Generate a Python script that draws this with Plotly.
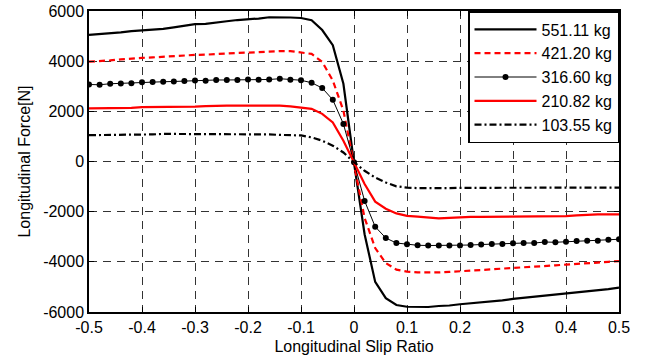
import plotly.graph_objects as go

slip = [-0.5, -0.48, -0.46, -0.44, -0.42, -0.4, -0.38, -0.36, -0.34, -0.32, -0.3,
        -0.28, -0.26, -0.24, -0.22, -0.2, -0.18, -0.16, -0.14, -0.12, -0.1,
        -0.08, -0.06, -0.04, -0.02, 0.0, 0.02, 0.04, 0.06, 0.08, 0.1,
        0.12, 0.14, 0.16, 0.18, 0.2, 0.22, 0.24, 0.26, 0.28, 0.3,
        0.32, 0.34, 0.36, 0.38, 0.4, 0.42, 0.44, 0.46, 0.48, 0.5]

f_551 = [5050, 5080, 5110, 5150, 5200, 5230, 5250, 5290, 5350, 5420, 5480,
         5490, 5530, 5590, 5640, 5660, 5700, 5750, 5760, 5740, 5720,
         5630, 5240, 4640, 3100, -50, -2900, -4800, -5450, -5720, -5790,
         -5800, -5800, -5760, -5740, -5690, -5650, -5620, -5590, -5540, -5480,
         -5440, -5400, -5340, -5310, -5280, -5240, -5190, -5130, -5090, -5030]

f_421 = [3980, 4000, 4030, 4070, 4110, 4130, 4150, 4180, 4210, 4240, 4250,
         4260, 4290, 4310, 4330, 4340, 4370, 4400, 4400, 4400, 4360,
         4290, 3970, 3230, 2030, -50, -2250, -3450, -4050, -4310, -4390,
         -4420, -4430, -4420, -4400, -4380, -4350, -4320, -4300, -4270, -4250,
         -4230, -4200, -4170, -4140, -4110, -4090, -4060, -4030, -4000, -3970]

f_316 = [3070, 3060, 3100, 3110, 3120, 3160, 3170, 3180, 3190, 3210, 3230,
         3220, 3250, 3250, 3250, 3270, 3260, 3270, 3300, 3260, 3240,
         3140, 2930, 2460, 1500, -30, -1570, -2600, -3050, -3250, -3300,
         -3340, -3350, -3350, -3350, -3350, -3330, -3310, -3290, -3290, -3260,
         -3250, -3250, -3210, -3220, -3200, -3170, -3160, -3160, -3120, -3100]

f_210 = [2120, 2120, 2120, 2120, 2140, 2170, 2170, 2170, 2170, 2180, 2190,
         2210, 2230, 2230, 2230, 2230, 2230, 2230, 2230, 2200, 2160,
         2100, 1900, 1560, 830, -30, -900, -1600, -1880, -2070, -2170,
         -2200, -2240, -2270, -2250, -2220, -2210, -2210, -2210, -2210, -2200,
         -2200, -2200, -2190, -2190, -2180, -2150, -2120, -2110, -2110, -2110]

f_103 = [1050, 1050, 1050, 1050, 1050, 1050, 1080, 1100, 1100, 1110, 1110,
         1110, 1110, 1110, 1110, 1110, 1100, 1080, 1060, 1060, 1040,
         960, 830, 630, 360, -30, -370, -640, -840, -990, -1040,
         -1060, -1070, -1070, -1060, -1050, -1050, -1050, -1060, -1060, -1060,
         -1060, -1060, -1060, -1060, -1060, -1050, -1040, -1040, -1040, -1040]

series_names = ["551.11 kg", "421.20 kg", "316.60 kg", "210.82 kg", "103.55 kg"]

x_tickvals = [-0.5, -0.4, -0.3, -0.2, -0.1, 0, 0.1, 0.2, 0.3, 0.4, 0.5]
x_ticktext = ["-0.5", "-0.4", "-0.3", "-0.2", "-0.1", "0", "0.1", "0.2", "0.3", "0.4", "0.5"]
y_tickvals = [-6000, -4000, -2000, 0, 2000, 4000, 6000]
y_ticktext = ["-6000", "-4000", "-2000", "0", "2000", "4000", "6000"]

FONT = "Liberation Sans, Arial, Helvetica, sans-serif"

fig = go.Figure()
fig.add_trace(go.Scatter(x=slip, y=f_551, mode="lines", name=series_names[0],
                         line=dict(color="black", width=2.2)))
fig.add_trace(go.Scatter(x=slip, y=f_421, mode="lines", name=series_names[1],
                         line=dict(color="#ff0000", width=2.2, dash="6px,4px")))
fig.add_trace(go.Scatter(x=slip, y=f_316, mode="lines+markers", name=series_names[2],
                         line=dict(color="black", width=1),
                         marker=dict(color="black", size=6, symbol="circle")))
fig.add_trace(go.Scatter(x=slip, y=f_210, mode="lines", name=series_names[3],
                         line=dict(color="#ff0000", width=2.2)))
fig.add_trace(go.Scatter(x=slip, y=f_103, mode="lines", name=series_names[4],
                         line=dict(color="black", width=2.2, dash="7px,3px,2px,3px")))

axis_common = dict(
    showline=True, linecolor="black", linewidth=1.5, mirror="ticks",
    ticks="inside", ticklen=5, tickcolor="black", tickwidth=1,
    showgrid=True, gridcolor="#333333", gridwidth=1, griddash="8px,6px",
    zeroline=False, automargin=False,
    tickfont=dict(family=FONT, size=16, color="black"),
)

fig.update_xaxes(range=[-0.5, 0.5], tickvals=x_tickvals, ticktext=x_ticktext,
                 title=dict(text="Longitudinal Slip Ratio",
                            font=dict(family=FONT, size=16, color="black"), standoff=6),
                 **axis_common)
fig.update_yaxes(range=[-6000, 6000], tickvals=y_tickvals, ticktext=y_ticktext,
                 title=dict(text="Longitudinal Force[N]",
                            font=dict(family=FONT, size=16, color="black"), standoff=9),
                 **axis_common)

fig.update_layout(
    width=661, height=360,
    margin=dict(l=89, r=42, t=11, b=48),
    plot_bgcolor="white", paper_bgcolor="white",
    font=dict(family=FONT, size=16, color="black"),
    legend=dict(x=1, y=1, xanchor="right", yanchor="top",
                bgcolor="white", bordercolor="black", borderwidth=1.5,
                font=dict(family=FONT, size=16, color="black"),
                itemwidth=62, tracegroupgap=0),
    showlegend=True,
)

fig.write_html("out.html", config={"displayModeBar": False},
               post_script="document.body.style.margin='0';")
